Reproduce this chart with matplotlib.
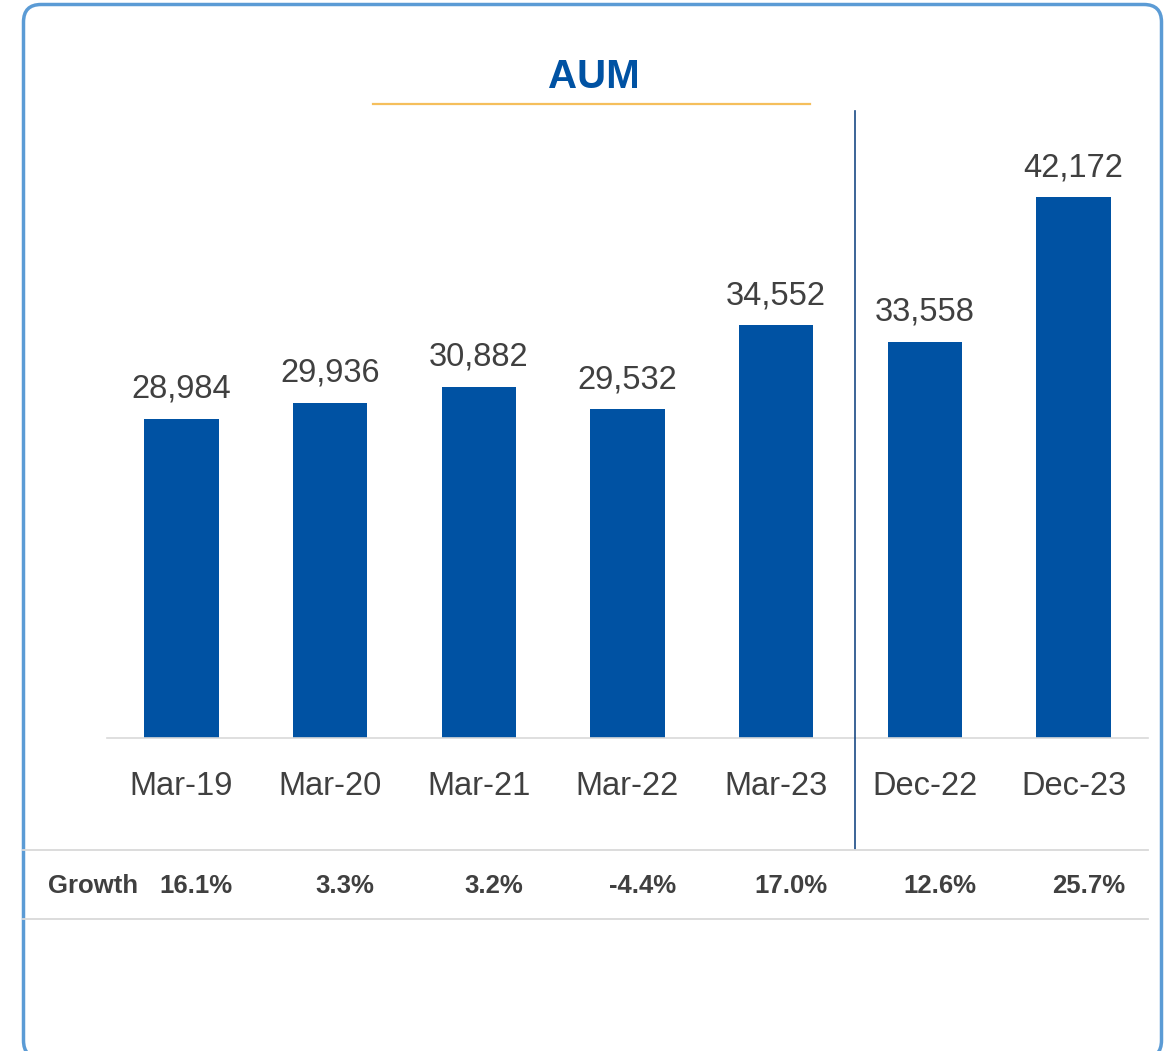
import matplotlib.pyplot as plt
from matplotlib.patches import FancyBboxPatch
from matplotlib.lines import Line2D
import matplotlib.transforms as mtransforms

plt.rcParams['font.family'] = ['Liberation Sans', 'DejaVu Sans']

periods = ["Mar-19", "Mar-20", "Mar-21", "Mar-22", "Mar-23", "Dec-22", "Dec-23"]
aum = [28984, 29936, 30882, 29532, 34552, 33558, 42172]
growth = ["16.1%", "3.3%", "3.2%", "-4.4%", "17.0%", "12.6%", "25.7%"]

W, H = 1168, 1051
bar_col = '#0052A3'
txt_col = '#404040'
grid_col = '#D9D9D9'


def fx(px):
    return px / W


def fy(py):
    return 1 - py / H


fig = plt.figure(figsize=(W / 100, H / 100), dpi=100)

# rounded frame
frame = FancyBboxPatch((fx(23.5), fy(1058)), fx(1161.5) - fx(23.5), fy(4.5) - fy(1058),
                       boxstyle="round,pad=0,rounding_size=0.015",
                       transform=fig.transFigure, facecolor='none',
                       edgecolor='#5B9BD5', linewidth=2.5, mutation_aspect=W / H,
                       clip_on=False, zorder=0)
fig.patches.append(frame)

ax = fig.add_axes([fx(107), fy(738), fx(1148) - fx(107), fy(111) - fy(738)])
ax.set_facecolor('none')
x = list(range(len(periods)))
ax.bar(x, aum, width=0.5, color=bar_col, zorder=2)
ax.set_xlim(-0.5, 6.5)
ax.set_ylim(10000, 47280)

for i, v in enumerate(aum):
    ax.annotate(f"{v:,}", (i, v), xytext=(0, 10), textcoords='offset points',
                ha='center', va='bottom', fontsize=23.5, color=txt_col)

for s in ['top', 'right', 'left']:
    ax.spines[s].set_visible(False)
ax.spines['bottom'].set_color(grid_col)
ax.spines['bottom'].set_linewidth(1.2)
ax.set_yticks([])
ax.set_xticks(x)
ax.set_xticklabels(periods, fontsize=23.5, color=txt_col)
ax.tick_params(axis='x', length=0, pad=24)

# title + underline
fig.text(fx(594), fy(88), "AUM", ha='center', va='baseline', fontsize=29,
         fontweight='bold', color='#0052A3')
fig.add_artist(Line2D([fx(373), fx(810)], [fy(104), fy(104)], color='#F5BF5C', lw=1.6))

# separator between annual and quarterly
trans = mtransforms.blended_transform_factory(ax.transData, fig.transFigure)
fig.add_artist(Line2D([4.53, 4.53], [fy(111), fy(849)], color='#1A4A85', lw=1.2,
                      transform=trans))

# growth table
for yy in (850, 919):
    fig.add_artist(Line2D([fx(23), fx(1148)], [fy(yy), fy(yy)], color=grid_col, lw=1.3))
fig.text(fx(48), fy(886), "Growth", ha='left', va='center', fontsize=18.5,
         fontweight='bold', color=txt_col)
for i, g in enumerate(growth):
    ax.text(i + 0.1, fy(886), g, transform=trans, ha='center', va='center',
            fontsize=18.5, fontweight='bold', color=txt_col)

fig.savefig("out.png", dpi=100)
